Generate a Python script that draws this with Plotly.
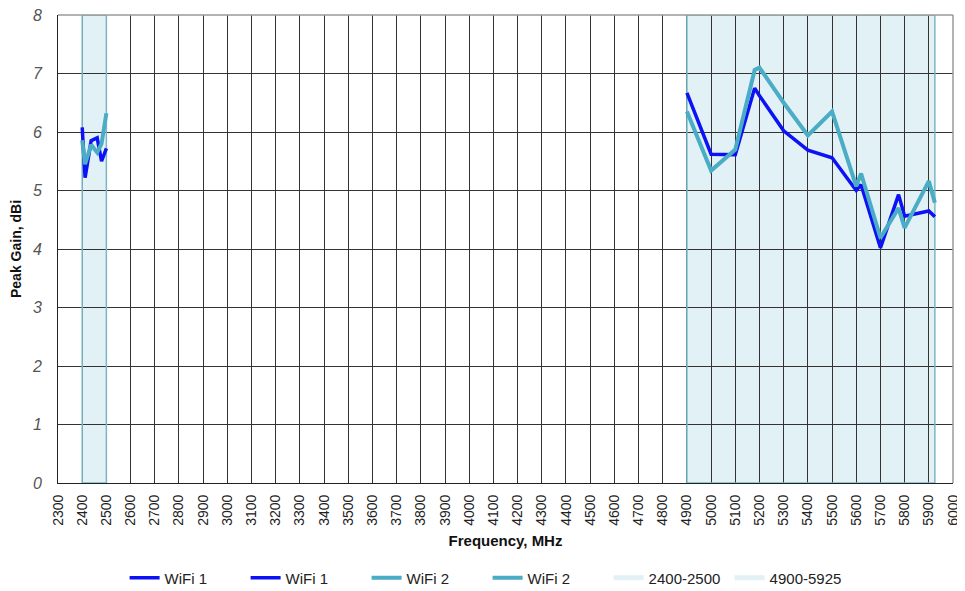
import plotly.graph_objects as go

# 2.4 GHz band
freq_24 = [2400, 2412, 2437, 2462, 2480, 2500]
wifi1_24 = [6.08, 5.22, 5.85, 5.90, 5.50, 5.72]
wifi2_24 = [5.86, 5.45, 5.78, 5.65, 5.80, 6.32]

# 5 GHz band
freq_5 = [4900, 5000, 5100, 5180, 5200, 5300, 5400, 5500, 5600, 5620, 5700, 5775, 5800, 5900, 5925]
wifi1_5 = [6.67, 5.62, 5.61, 6.75, 6.62, 6.02, 5.69, 5.56, 5.00, 5.10, 4.02, 4.93, 4.56, 4.65, 4.55]
wifi2_5 = [6.35, 5.34, 5.70, 7.06, 7.10, 6.50, 5.94, 6.35, 5.07, 5.29, 4.19, 4.70, 4.36, 5.16, 4.79]

bands = [("2400-2500", 2400, 2500), ("4900-5925", 4900, 5925)]

x_ticks = list(range(2300, 6001, 100))
y_ticks = list(range(0, 9))

BLUE = "#0c12f5"
TEAL = "#4bacc6"
BAND = "#e1f1f6"
BAND_EDGE = "#7bb6c6"
GRID = "#333333"
FRAME = "#9a9a9a"

fig = go.Figure()

for f, g in [(freq_24, wifi1_24), (freq_5, wifi1_5)]:
    fig.add_trace(go.Scatter(x=f, y=g, mode="lines", name="WiFi 1",
                             line=dict(color=BLUE, width=3.5)))
for f, g in [(freq_24, wifi2_24), (freq_5, wifi2_5)]:
    fig.add_trace(go.Scatter(x=f, y=g, mode="lines", name="WiFi 2",
                             line=dict(color=TEAL, width=4)))

for name, lo, hi in bands:
    # fill under the grid, edges over it
    fig.add_shape(type="rect", xref="x", yref="y", x0=lo, x1=hi, y0=0, y1=8,
                  fillcolor=BAND, line=dict(width=0), layer="below")
    fig.add_shape(type="rect", xref="x", yref="y", x0=lo, x1=hi, y0=0, y1=8,
                  fillcolor="rgba(0,0,0,0)", line=dict(color=BAND_EDGE, width=1.5),
                  layer="between")
    # legend entry only
    fig.add_trace(go.Scatter(x=[None], y=[None], mode="lines", name=name,
                             line=dict(color=BAND, width=5)))

# grey top and right frame
fig.add_shape(type="line", xref="paper", yref="paper", x0=0, x1=1, y0=1, y1=1,
              line=dict(color=FRAME, width=1.5), layer="above")
fig.add_shape(type="line", xref="paper", yref="paper", x0=1, x1=1, y0=0, y1=1,
              line=dict(color=FRAME, width=1.5), layer="above")

# page body adds an 8px offset; figure is sized so it ends at the window edge
fig.update_layout(
    width=957, height=583,
    margin=dict(l=50, r=12, t=7, b=108, autoexpand=False),
    paper_bgcolor="white", plot_bgcolor="white",
    font=dict(family="Liberation Sans, Arial, sans-serif", color="#222"),
    showlegend=True,
    legend=dict(orientation="h", x=0.48, xanchor="center", y=-0.203, yanchor="middle",
                font=dict(size=15, color="#222"), entrywidth=76, entrywidthmode="pixels",
                tracegroupgap=0),
)

fig.update_xaxes(
    range=[2300, 6000], tickvals=x_ticks, ticktext=[str(v) for v in x_ticks],
    tickangle=-90, tickfont=dict(size=14, color="#222"),
    showgrid=True, gridcolor=GRID, gridwidth=1,
    showline=True, linecolor="#222", linewidth=1, mirror=False,
    zeroline=False, ticks="", ticklabelstandoff=5, automargin=False,
    ticklabeloverflow="allow",
    title=dict(text="<b>Frequency, MHz</b>", font=dict(size=15, color="#111"), standoff=10),
)
fig.update_yaxes(
    range=[0, 8], tickvals=y_ticks,
    tickfont=dict(size=16, color="#555", style="italic"),
    showgrid=True, gridcolor=GRID, gridwidth=1,
    showline=True, linecolor="#222", linewidth=1, mirror=False,
    zeroline=False, ticks="", ticklabelstandoff=12, automargin=False,
    ticklabeloverflow="allow",
    title=dict(text="<b>Peak Gain, dBi</b>", font=dict(size=14, color="#111"), standoff=12),
)

fig.write_html("out.html")
